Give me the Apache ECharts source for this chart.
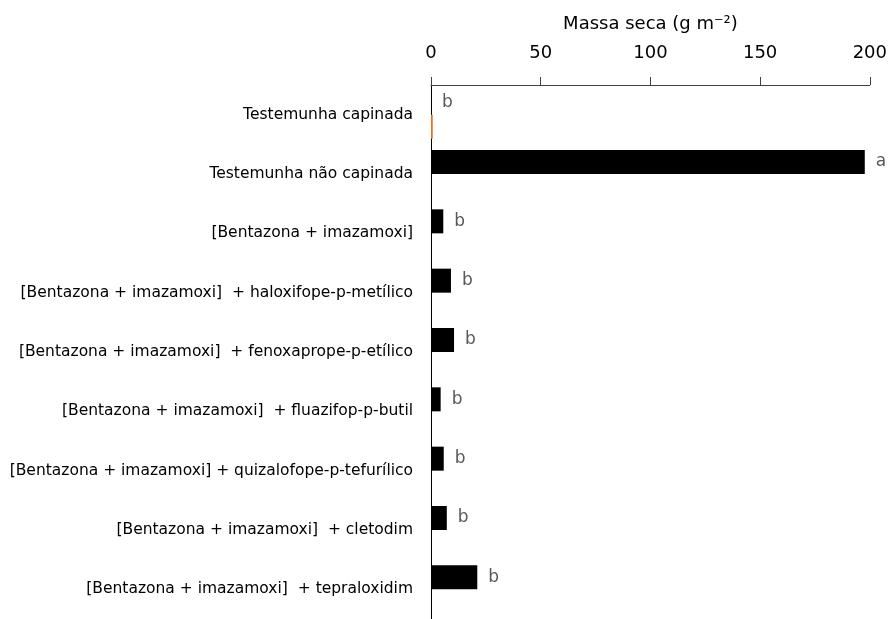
<!DOCTYPE html>
<html>
<head>
<meta charset="utf-8">
<script src="https://cdn.jsdelivr.net/npm/echarts@6/dist/echarts.min.js"></script>
<style>
  html, body { margin: 0; padding: 0; background: #fff; }
  #chart { width: 890px; height: 619px; }
</style>
</head>
<body>
<div id="chart"></div>
<script>
// Treatments, top to bottom
var categories = [
  'Testemunha capinada',
  'Testemunha não capinada',
  '[Bentazona + imazamoxi]',
  '[Bentazona + imazamoxi]  + haloxifope-p-metílico',
  '[Bentazona + imazamoxi]  + fenoxaprope-p-etílico',
  '[Bentazona + imazamoxi]  + fluazifop-p-butil',
  '[Bentazona + imazamoxi] + quizalofope-p-tefurílico',
  '[Bentazona + imazamoxi]  + cletodim',
  '[Bentazona + imazamoxi]  + tepraloxidim'
];

// Dry mass (g m-2) per treatment
var massaSeca = [0, 197.7, 5.6, 9.1, 10.5, 4.4, 5.8, 7.2, 21.1];
// Weeded check drawn as its own series
var capinada = [0.8, null, null, null, null, null, null, null, null];
// Mean-comparison letters
var letras = ['b', 'a', 'b', 'b', 'b', 'b', 'b', 'b', 'b'];

// Value axis ticks
var xMin = 0, xMax = 200, xStep = 50;

var FONT = 'DejaVu Sans';

var chart = echarts.init(document.getElementById('chart'), null, { renderer: 'canvas' });

chart.setOption({
  animation: false,
  backgroundColor: '#ffffff',
  textStyle: { fontFamily: FONT },
  grid: { left: 431, right: 20, top: 85, bottom: -3, containLabel: false },
  xAxis: {
    type: 'value',
    position: 'top',
    min: xMin,
    max: xMax,
    interval: xStep,
    name: 'Massa seca (g m⁻²)',
    nameLocation: 'middle',
    nameGap: 52,
    nameTextStyle: { fontFamily: FONT, fontSize: 18, color: '#000' },
    axisLine: { show: true, lineStyle: { color: '#404040', width: 1 } },
    axisTick: { show: true, inside: false, length: 8, lineStyle: { color: '#404040', width: 1 } },
    axisLabel: { fontFamily: FONT, fontSize: 18, color: '#000', margin: 23 },
    splitLine: { show: false }
  },
  yAxis: {
    type: 'category',
    inverse: true,
    data: categories,
    axisLine: { show: true, onZero: false, lineStyle: { color: '#000', width: 1 } },
    axisTick: { show: false },
    axisLabel: { fontFamily: FONT, fontSize: 15.5, color: '#000', margin: 18 },
    splitLine: { show: false }
  },
  series: [
    {
      type: 'bar',
      data: massaSeca,
      barWidth: 24,
      barGap: '0%',
      itemStyle: { color: '#000000' },
      label: {
        show: true,
        position: 'right',
        distance: 11,
        fontFamily: FONT,
        fontSize: 17,
        color: '#595959',
        formatter: function (p) { return letras[p.dataIndex]; }
      }
    },
    {
      type: 'bar',
      data: capinada,
      barWidth: 24,
      barGap: '0%',
      itemStyle: { color: '#E8731F' }
    }
  ]
});
</script>
</body>
</html>
